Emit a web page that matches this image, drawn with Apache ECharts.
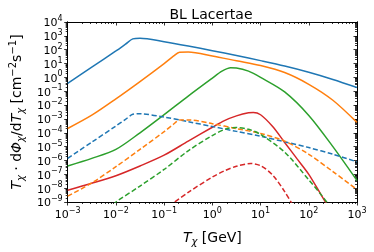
<!DOCTYPE html>
<html><head><meta charset="utf-8">
<script src="https://cdn.jsdelivr.net/npm/echarts@6/dist/echarts.min.js"></script>
<style>html,body{margin:0;padding:0;background:#fff}#c{width:374px;height:252px}</style>
</head><body><div id="c"></div>
<script>
// ---- data ----
const blueSolidX = [1e-3, 3.16e-3, 1e-2, 1.58e-2, 2.24e-2, 3.16e-2, 0.1, 0.316, 1, 3.16, 10, 31.6, 100, 316, 1000];
const blueSolidY = [0.37, 5.5, 81, 251, 603, 676, 380, 186, 85, 38, 16.2, 6.6, 2.34, 0.71, 0.186];
const blueDashX = [1e-3, 3.16e-3, 1e-2, 1.58e-2, 2.24e-2, 3.16e-2, 0.1, 0.316, 1, 3.16, 10, 31.6, 100, 316, 1000];
const blueDashY = [1.41e-6, 2.09e-5, 3.09e-4, 9.3e-4, 2.14e-3, 2.34e-3, 1.35e-3, 6.3e-4, 2.82e-4, 1.26e-4, 5.6e-5, 2.24e-5, 8.5e-6, 2.82e-6, 7.9e-7];
const orangeSolidX = [1e-3, 3.16e-3, 1e-2, 3.16e-2, 0.1, 0.158, 0.209, 0.316, 1, 3.16, 10, 31.6, 100, 316, 1000];
const orangeSolidY = [2.04e-4, 1.86e-3, 2.82e-2, 0.5, 10, 35.5, 66, 67.6, 35.5, 15.8, 7.1, 2.24, 0.316, 2.24e-2, 5.6e-4];
const orangeDashX = [1e-3, 3.16e-3, 1e-2, 3.16e-2, 0.1, 0.158, 0.209, 0.316, 1, 3.16, 10, 31.6, 100, 316, 1000];
const orangeDashY = [2.63e-9, 2.4e-8, 3.55e-7, 6.3e-6, 1.2e-4, 4.3e-4, 8.3e-4, 8.5e-4, 4.5e-4, 2.0e-4, 8.9e-5, 2.5e-5, 2.8e-6, 1.58e-7, 7.9e-9];
const greenSolidX = [1e-3, 3.16e-3, 1e-2, 3.16e-2, 0.1, 0.316, 1, 1.58, 2.4, 3.16, 5.62, 10, 31.6, 100, 316, 1000];
const greenSolidY = [4.0e-7, 1.41e-6, 6.3e-6, 1.0e-4, 2.04e-3, 4.5e-2, 0.89, 2.82, 5.0, 4.8, 2.82, 1.0, 8.9e-2, 1.78e-3, 1.0e-5, 3.55e-8];
const greenDashX = [8.9e-3, 1e-2, 3.16e-2, 0.1, 0.316, 1, 2.0, 3.16, 5.62, 10, 31.6, 100, 178, 316];
const greenDashY = [6.3e-10, 1e-9, 1.41e-8, 2.24e-7, 5.0e-6, 6.3e-5, 2.0e-4, 2.4e-4, 1.78e-4, 7.6e-5, 4.0e-6, 4.0e-8, 3.55e-9, 2.5e-10];
const redSolidX = [1e-3, 3.16e-3, 1e-2, 3.16e-2, 0.1, 0.316, 1, 1.78, 3.16, 5.62, 7.08, 10, 17.8, 31.6, 56.2, 100, 178, 316];
const redSolidY = [7.1e-9, 2.24e-8, 7.9e-8, 4.0e-7, 2.4e-6, 2.5e-5, 2.5e-4, 7.6e-4, 1.66e-3, 2.82e-3, 2.95e-3, 2.0e-3, 2.82e-4, 2.0e-5, 1.41e-6, 1.0e-7, 3.55e-9, 1.26e-10];
const redDashX = [0.126, 0.316, 1, 1.78, 3.16, 6.31, 10, 17.8, 31.6, 56.2];
const redDashY = [5.0e-10, 5.0e-9, 6.3e-8, 1.78e-7, 3.8e-7, 6.0e-7, 4.2e-7, 8.9e-8, 5.6e-9, 2.0e-10];

const xMajorTicks = [1e-3, 1e-2, 1e-1, 1, 1e1, 1e2, 1e3];
const yMajorTicks = [1e-9, 1e-8, 1e-7, 1e-6, 1e-5, 1e-4, 1e-3, 1e-2, 1e-1, 1, 1e1, 1e2, 1e3, 1e4];
const minorMantissas = [2, 3, 4, 5, 6, 7, 8, 9];

function minorTicks(majors) {
  const out = [];
  for (let i = 0; i < majors.length - 1; i++) for (const m of minorMantissas) out.push(+(majors[i] * m).toPrecision(3));
  return out;
}
const xMinorTicks = minorTicks(xMajorTicks);
const yMinorTicks = minorTicks(yMajorTicks);

const C = {blue: '#1f77b4', orange: '#ff7f0e', green: '#2ca02c', red: '#d62728'};
const FONT = 'DejaVu Sans';

function pairs(xs, ys) { return xs.map((x, i) => [x, ys[i]]); }
function powLabel(v) {
  const e = Math.round(Math.log10(v));
  return '{b|10}{s|' + (e < 0 ? '\u2212' + (-e) : e) + '}';
}
const labelRich = {
  b: {fontSize: 11, fontFamily: FONT, color: '#000', lineHeight: 14, verticalAlign: 'bottom'},
  s: {fontSize: 8, fontFamily: FONT, color: '#000', lineHeight: 8, verticalAlign: 'top'}
};
const line = {show: true, lineStyle: {color: '#000', width: 1}};

function xAx(pos, ticks, len, inside, labels) {
  return {
    type: 'log', logBase: 10, min: 1e-3, max: 1e3, position: pos, gridIndex: 0,
    axisLine: line, splitLine: {show: false},
    axisTick: {show: true, customValues: ticks, length: len, inside: inside, lineStyle: {color: '#000', width: 0.8}},
    axisLabel: labels ? {show: true, customValues: xMajorTicks, formatter: powLabel, rich: labelRich, margin: 5} : {show: false}
  };
}
function yAx(pos, ticks, len, inside, labels) {
  return {
    type: 'log', logBase: 10, min: 1e-9, max: 1e4, position: pos, gridIndex: 0,
    axisLine: line, splitLine: {show: false},
    axisTick: {show: true, customValues: ticks, length: len, inside: inside, lineStyle: {color: '#000', width: 0.8}},
    axisLabel: labels ? {show: true, customValues: yMajorTicks, formatter: powLabel, rich: labelRich, margin: 5} : {show: false}
  };
}

const xAxes = [
  xAx('bottom', xMajorTicks, 3.5, false, true),
  xAx('bottom', xMinorTicks, 2, false, false),
  xAx('top', xMajorTicks, 3.5, true, false),
  xAx('top', xMinorTicks, 2, true, false)
];
xAxes[0].name = '{i|T}{is|\u03c7}{n| [GeV]}';
xAxes[0].nameLocation = 'middle';
xAxes[0].nameGap = 27;
xAxes[0].nameTextStyle = {rich: {
  i: {fontSize: 14, fontFamily: FONT, fontStyle: 'italic', color: '#000', lineHeight: 18},
  is: {fontSize: 10, fontFamily: FONT, fontStyle: 'italic', color: '#000', lineHeight: 10, verticalAlign: 'bottom'},
  n: {fontSize: 14, fontFamily: FONT, color: '#000', lineHeight: 18}
}};

const yAxes = [
  yAx('left', yMajorTicks, 3.5, false, true),
  yAx('left', yMinorTicks, 2, false, false),
  yAx('right', yMajorTicks, 3.5, true, false),
  yAx('right', yMinorTicks, 2, true, false)
];
const nameRich = {
  i: {fontSize: 14, fontFamily: FONT, fontStyle: 'italic', color: '#000', lineHeight: 18},
  is: {fontSize: 10, fontFamily: FONT, fontStyle: 'italic', color: '#000', lineHeight: 10, verticalAlign: 'bottom'},
  n: {fontSize: 14, fontFamily: FONT, color: '#000', lineHeight: 18},
  sp: {fontSize: 10, fontFamily: FONT, color: '#000', lineHeight: 10, verticalAlign: 'top'}
};
yAxes[0].name = '{i|T}{is|\u03c7}{n| \u00b7 d}{i|\u03a6}{is|\u03c7}{n|/d}{i|T}{is|\u03c7}{n| [cm}{sp|\u22122}{n|s}{sp|\u22121}{n|]}';
yAxes[0].nameLocation = 'middle';
yAxes[0].nameRotate = 90;
yAxes[0].nameGap = 35;
yAxes[0].nameTextStyle = {rich: nameRich};

function ser(xs, ys, color, dashed) {
  return {
    type: 'line', xAxisIndex: 0, yAxisIndex: 0, data: pairs(xs, ys), showSymbol: false, smooth: 0.3,
    clip: true, lineStyle: {color: color, width: 1.5, type: dashed ? [5, 2.5] : 'solid'}
  };
}

const chart = echarts.init(document.getElementById('c'), null, {renderer: 'canvas'});
chart.setOption({
  animation: false,
  backgroundColor: '#fff',
  title: {text: 'BL Lacertae', left: 206, top: 3, textAlign: 'center',
    textStyle: {fontFamily: FONT, fontSize: 14, fontWeight: 'normal', color: '#000'}},
  grid: {left: 55, right: 17, top: 22, bottom: 40, containLabel: false},
  xAxis: xAxes,
  yAxis: yAxes,
  series: [
    ser(blueSolidX, blueSolidY, C.blue, false),
    ser(orangeSolidX, orangeSolidY, C.orange, false),
    ser(greenSolidX, greenSolidY, C.green, false),
    ser(redSolidX, redSolidY, C.red, false),
    ser(blueDashX, blueDashY, C.blue, true),
    ser(orangeDashX, orangeDashY, C.orange, true),
    ser(greenDashX, greenDashY, C.green, true),
    ser(redDashX, redDashY, C.red, true)
  ]
});
</script>
</body></html>
